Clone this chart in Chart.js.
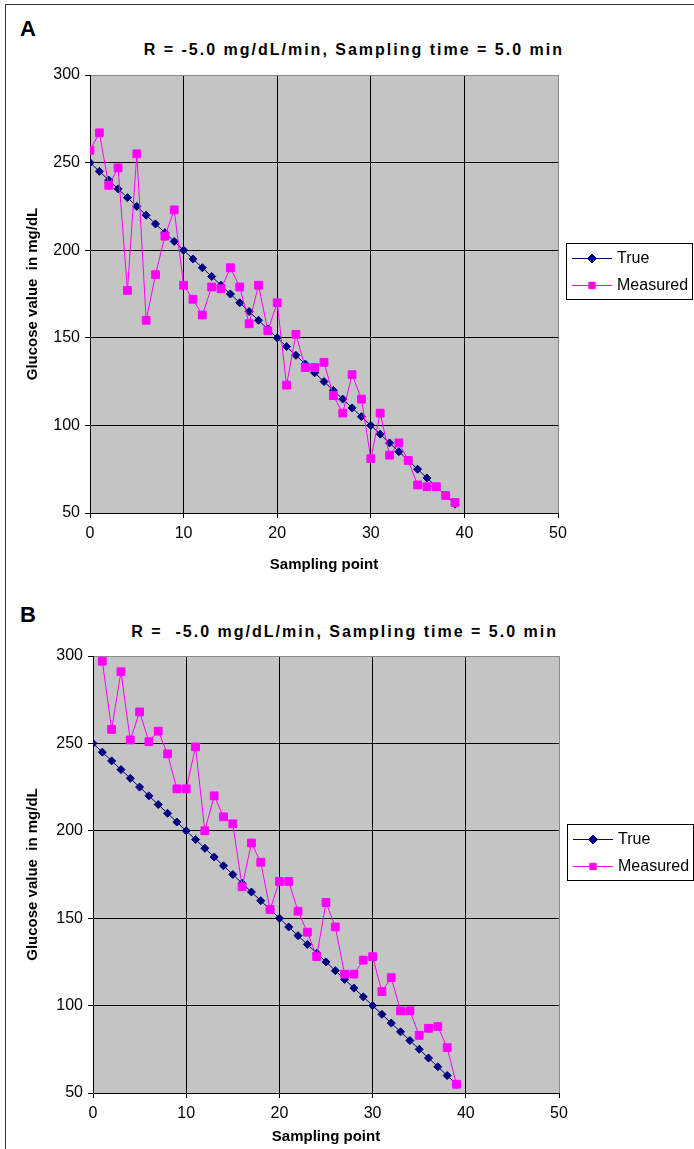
<!DOCTYPE html>
<html>
<head>
<meta charset="utf-8">
<title>Glucose sampling</title>
<script src="https://cdn.jsdelivr.net/npm/chart.js@4.4.1/dist/chart.umd.min.js"></script>
<style>
    body { margin: 0; background: #fff; }
    #page { position: relative; width: 694px; height: 1149px; overflow: hidden; font-family: "Liberation Sans", Arial, sans-serif; }
    #frame { position: absolute; left: 5px; top: 4px; right: -4px; bottom: -4px; border-top: 1px solid #333; border-left: 1px solid #333; }
    .panel { position: absolute; left: 20px; font-weight: bold; font-size: 22px; line-height: 22px; }
    .title { position: absolute; font-weight: bold; font-size: 16px; line-height: 20px; letter-spacing: 2px; white-space: nowrap; }
    canvas { position: absolute; left: 0; }
</style>
</head>
<body>
<div id="page">
    <div id="frame"></div>
    <div class="panel" style="top:18px">A</div>
    <div class="title" style="top:40px; right:130px">R = -5.0 mg/dL/min, Sampling time = 5.0 min</div>
    <canvas id="chartA" width="694" height="590" style="top:0"></canvas>
    <div class="panel" style="top:604px">B</div>
    <div class="title" style="top:622px; right:136px">R = &nbsp;-5.0 mg/dL/min, Sampling time = 5.0 min</div>
    <canvas id="chartB" width="694" height="559" style="top:590px"></canvas>
</div>
<script>
// sampling points 0..39, one reading every 5 min
const samplePoints = [0, 1, 2, 3, 4, 5, 6, 7, 8, 9, 10, 11, 12, 13, 14, 15, 16, 17, 18, 19,
    20, 21, 22, 23, 24, 25, 26, 27, 28, 29, 30, 31, 32, 33, 34, 35, 36, 37, 38, 39];

// true glucose falling at 5 mg/dL per sample
const trueGlucose = [250, 245, 240, 235, 230, 225, 220, 215, 210, 205, 200, 195, 190, 185, 180, 175, 170, 165, 160, 155,
    150, 145, 140, 135, 130, 125, 120, 115, 110, 105, 100, 95, 90, 85, 80, 75, 70, 65, 60, 55];

const measuredA = [257, 267, 237, 247, 177, 255, 160, 186, 208, 223, 180, 172, 163, 179, 178, 190, 179, 158, 180, 154,
    170, 123, 152, 133, 133, 136, 117, 107, 129, 115, 81, 107, 83, 90, 80, 66, 65, 65, 60, 56];

const measuredB = [318, 297, 258, 291, 252, 268, 251, 257, 244, 224, 224, 248, 200, 220, 208, 204, 168, 193, 182, 155,
    171, 171, 154, 142, 128, 159, 145, 118, 118, 126, 128, 108, 116, 97, 97, 83, 87, 88, 76, 55];

const xTickValues = [0, 10, 20, 30, 40, 50];
const yTickValues = [50, 100, 150, 200, 250, 300];

const FONT = '"Liberation Sans", Arial, sans-serif';

// grey plot area behind the grid
const plotBackground = {
    id: 'plotBackground',
    beforeDraw(chart) {
        const a = chart.chartArea;
        chart.ctx.save();
        chart.ctx.fillStyle = '#c4c4c4';
        chart.ctx.fillRect(a.left, a.top, a.right - a.left, a.bottom - a.top);
        chart.ctx.restore();
    }
};

// legend in a framed box to the right of the plot
const boxedLegend = {
    id: 'boxedLegend',
    afterDraw(chart) {
        const ctx = chart.ctx;
        const a = chart.chartArea;
        const left = Math.round(a.right) + 8;
        const top = Math.round(a.top) + 168;
        ctx.save();
        ctx.fillStyle = '#fff';
        ctx.fillRect(left, top, 126, 56);
        ctx.strokeStyle = '#000';
        ctx.lineWidth = 1;
        ctx.strokeRect(left + 0.5, top + 0.5, 126, 56);
        chart.data.datasets.forEach(function(ds, i) {
            const y = top + 15 + i * 27;
            ctx.strokeStyle = ds.borderColor;
            ctx.beginPath();
            ctx.moveTo(left + 6, y + 0.5);
            ctx.lineTo(left + 46, y + 0.5);
            ctx.stroke();
            ctx.fillStyle = ds.pointBackgroundColor;
            ctx.strokeStyle = ds.pointBorderColor;
            Chart.helpers.drawPoint(ctx, { pointStyle: ds.pointStyle, radius: 4.5, borderWidth: 1, rotation: 0 }, left + 26, y + 0.5);
            ctx.fillStyle = '#000';
            ctx.font = '16px ' + FONT;
            ctx.textBaseline = 'middle';
            ctx.textAlign = 'left';
            ctx.fillText(ds.label, left + 51, y + 1);
        });
        ctx.restore();
    }
};

function buildChart(canvasId, measured, frame) {
    return new Chart(document.getElementById(canvasId), {
        type: 'line',
        data: {
            datasets: [{
                label: 'True',
                data: samplePoints.map((x, i) => ({ x: x, y: trueGlucose[i] })),
                borderColor: '#000080',
                backgroundColor: '#000080',
                borderWidth: 1,
                pointStyle: 'rectRot',
                pointRadius: 4,
                pointBorderWidth: 1,
                pointBackgroundColor: '#000080',
                pointBorderColor: '#000080',
                tension: 0,
                order: 1
            }, {
                label: 'Measured',
                data: samplePoints.map((x, i) => ({ x: x, y: measured[i] })),
                borderColor: '#ff00ff',
                backgroundColor: '#ff00ff',
                borderWidth: 1,
                pointStyle: 'rect',
                pointRadius: 5.5,
                pointBorderWidth: 1,
                pointBackgroundColor: '#ff00ff',
                pointBorderColor: '#ff00ff',
                tension: 0,
                order: 0
            }]
        },
        options: {
            responsive: false,
            animation: false,
            layout: { padding: { left: 0, right: frame.right, top: frame.top, bottom: 0 } },
            plugins: {
                legend: { display: false },
                tooltip: { enabled: false },
                title: { display: false }
            },
            scales: {
                x: {
                    type: 'linear',
                    min: 0,
                    max: 50,
                    afterFit: function(scale) { scale.height = frame.xHeight; },
                    afterBuildTicks: function(scale) { scale.ticks = xTickValues.map(v => ({ value: v })); },
                    grid: {
                        color: c => (c.tick && c.tick.value === 50 ? '#8a8a8a' : '#000'),
                        lineWidth: 1,
                        tickLength: 5,
                        tickColor: '#000'
                    },
                    border: { color: '#000', width: 1 },
                    ticks: { color: '#000', padding: 6, maxRotation: 0, font: { family: FONT, size: 16 } },
                    title: {
                        display: true,
                        text: 'Sampling point',
                        color: '#000',
                        font: { family: FONT, size: 15, weight: 'bold' },
                        padding: { top: 0, bottom: frame.xTitlePad }
                    }
                },
                y: {
                    type: 'linear',
                    min: 50,
                    max: 300,
                    afterFit: function(scale) { scale.width = frame.yWidth; },
                    afterBuildTicks: function(scale) { scale.ticks = yTickValues.map(v => ({ value: v })); },
                    grid: {
                        color: c => (c.tick && c.tick.value === 300 ? '#8a8a8a' : '#000'),
                        lineWidth: 1,
                        tickLength: 5,
                        tickColor: '#000'
                    },
                    border: { color: '#000', width: 1 },
                    ticks: { color: '#000', padding: 5, font: { family: FONT, size: 16 } },
                    title: {
                        display: true,
                        text: 'Glucose value  in mg/dL',
                        color: '#000',
                        font: { family: FONT, size: 15, weight: 'bold' },
                        padding: { top: 24, bottom: 0 }
                    }
                }
            }
        },
        plugins: [plotBackground, boxedLegend]
    });
}

document.addEventListener('DOMContentLoaded', function() {
    buildChart('chartA', measuredA, { top: 75, right: 136, yWidth: 90, xHeight: 77, xTitlePad: 16 });
    buildChart('chartB', measuredB, { top: 66, right: 135, yWidth: 93, xHeight: 56, xTitlePad: 3 });
});
</script>
</body>
</html>
